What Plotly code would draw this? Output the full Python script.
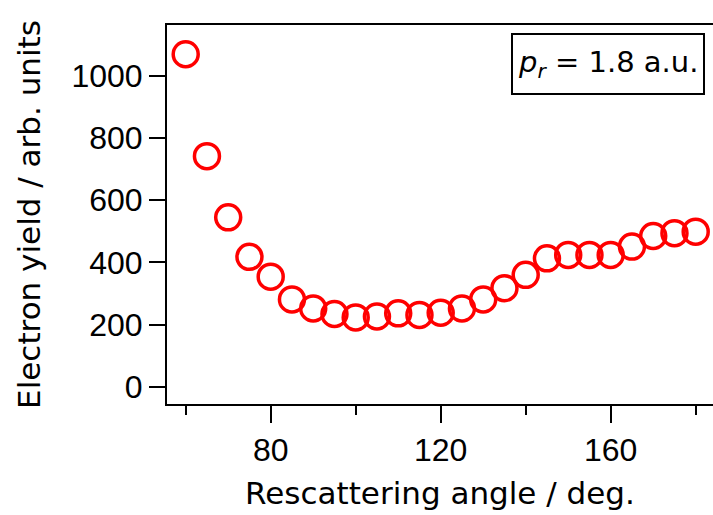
import plotly.graph_objects as go

# Rescattering angle (deg.) and electron yield (arb. units) at p_r = 1.8 a.u.
angle = [60, 65, 70, 75, 80, 85, 90, 95, 100, 105, 110, 115, 120,
         125, 130, 135, 140, 145, 150, 155, 160, 165, 170, 175, 180]
yield_ = [1070, 742, 545, 418, 354, 281, 252, 234, 223, 226, 236, 231, 238,
          252, 281, 317, 360, 413, 424, 424, 424, 451, 485, 494, 499]

x_ticks = [40, 80, 120, 160]
y_ticks = [0, 200, 400, 600, 800, 1000]

TICK_FONT = dict(family="Liberation Sans", size=32, color="black")
TITLE_FONT = dict(family="DejaVu Sans", size=31, color="black")

fig = go.Figure()
fig.add_trace(go.Scatter(
    x=angle, y=yield_, mode="markers",
    marker=dict(symbol="circle-open", size=25, color="#ff0000",
                line=dict(width=3.5, color="#ff0000")),
    showlegend=False,
))

fig.update_layout(
    width=713, height=515,
    margin=dict(l=167, r=0, t=25, b=111),
    paper_bgcolor="white", plot_bgcolor="white",
    font=TICK_FONT,
    xaxis=dict(
        range=[55.6, 184.07],
        tickvals=x_ticks,
        showline=True, linecolor="black", linewidth=2, mirror=True,
        ticks="outside", ticklen=17, tickwidth=2, tickcolor="black",
        minor=dict(dtick=20, tick0=0, ticks="outside", ticklen=9,
                   tickwidth=2, tickcolor="black"),
        showgrid=False, zeroline=False,
        title=dict(text="Rescattering angle / deg.", standoff=15,
                   font=TITLE_FONT),
        tickfont=TICK_FONT,
    ),
    yaxis=dict(
        range=[-55.7, 1164],
        tickvals=y_ticks,
        showline=True, linecolor="black", linewidth=2, mirror=False,
        ticks="outside", ticklen=16, tickwidth=2, tickcolor="black",
        showgrid=False, zeroline=False,
        title=dict(text="Electron yield / arb. units", standoff=22,
                   font=TITLE_FONT),
        tickfont=TICK_FONT,
    ),
    annotations=[dict(
        text="<i>p</i><sub><i>r</i></sub> = 1.8 a.u.",
        xref="paper", yref="paper", x=0.985, y=0.979,
        xanchor="right", yanchor="top", showarrow=False,
        font=dict(family="DejaVu Sans", size=29, color="black"),
        height=48, valign="middle",
        bordercolor="black", borderwidth=2, borderpad=5,
        bgcolor="white",
    )],
)

fig.write_html("out.html")
